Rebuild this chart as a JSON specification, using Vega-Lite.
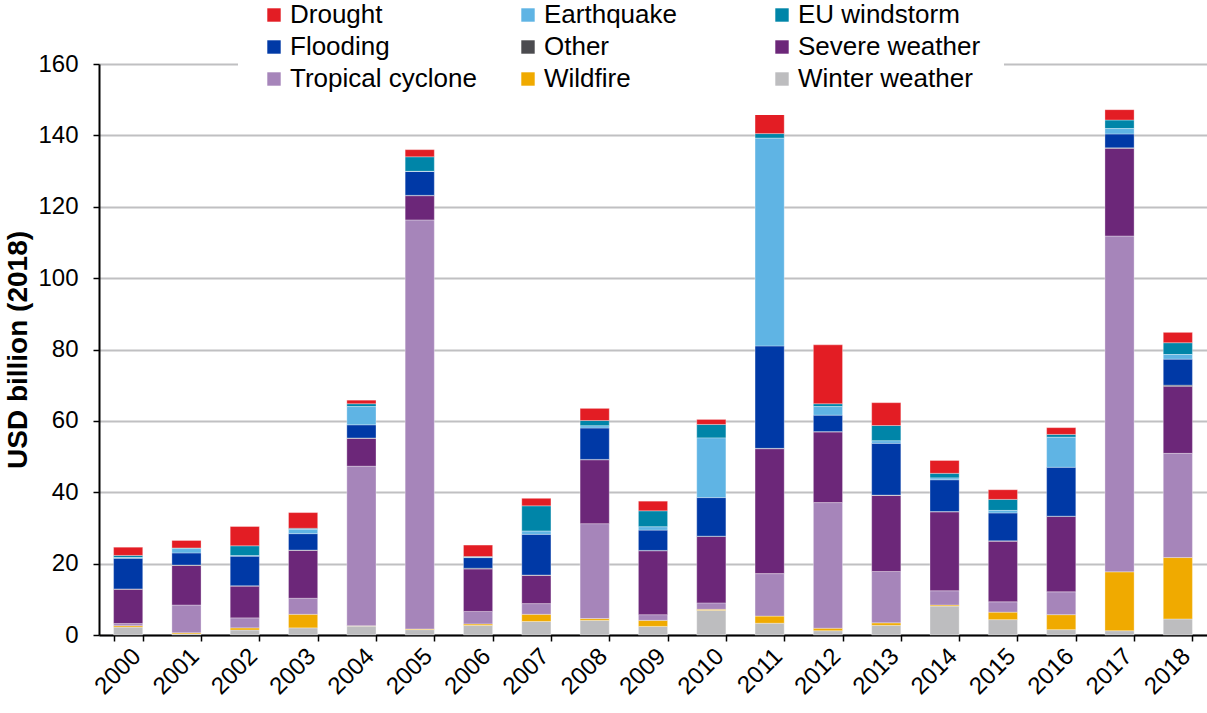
{
  "$schema": "https://vega.github.io/schema/vega-lite/v6.json",
  "width": 1108,
  "height": 571,
  "autosize": {"type": "none"},
  "padding": {"left": 99, "top": 64, "right": 0, "bottom": 78},
  "background": "white",
  "config": {"view": {"stroke": null}, "font": "Liberation Sans"},
  "datasets": {
    "losses": [
      {"year": "2000", "type": "Winter weather", "value": 2.2},
      {"year": "2000", "type": "Wildfire", "value": 0.4},
      {"year": "2000", "type": "Tropical cyclone", "value": 0.6},
      {"year": "2000", "type": "Severe weather", "value": 9.6},
      {"year": "2000", "type": "Other", "value": 0.1},
      {"year": "2000", "type": "Flooding", "value": 8.6},
      {"year": "2000", "type": "EU windstorm", "value": 0.6},
      {"year": "2000", "type": "Earthquake", "value": 0.2},
      {"year": "2000", "type": "Drought", "value": 2.3},
      {"year": "2001", "type": "Winter weather", "value": 0.3},
      {"year": "2001", "type": "Wildfire", "value": 0.3},
      {"year": "2001", "type": "Tropical cyclone", "value": 7.8},
      {"year": "2001", "type": "Severe weather", "value": 11.1},
      {"year": "2001", "type": "Other", "value": 0.1},
      {"year": "2001", "type": "Flooding", "value": 3.4},
      {"year": "2001", "type": "EU windstorm", "value": 0.2},
      {"year": "2001", "type": "Earthquake", "value": 1.2},
      {"year": "2001", "type": "Drought", "value": 2.1},
      {"year": "2002", "type": "Winter weather", "value": 1.4},
      {"year": "2002", "type": "Wildfire", "value": 0.6},
      {"year": "2002", "type": "Tropical cyclone", "value": 2.8},
      {"year": "2002", "type": "Severe weather", "value": 8.9},
      {"year": "2002", "type": "Other", "value": 0.1},
      {"year": "2002", "type": "Flooding", "value": 8.3},
      {"year": "2002", "type": "EU windstorm", "value": 2.8},
      {"year": "2002", "type": "Earthquake", "value": 0.1},
      {"year": "2002", "type": "Drought", "value": 5.4},
      {"year": "2003", "type": "Winter weather", "value": 2.0},
      {"year": "2003", "type": "Wildfire", "value": 3.8},
      {"year": "2003", "type": "Tropical cyclone", "value": 4.5},
      {"year": "2003", "type": "Severe weather", "value": 13.4},
      {"year": "2003", "type": "Other", "value": 0.1},
      {"year": "2003", "type": "Flooding", "value": 4.6},
      {"year": "2003", "type": "EU windstorm", "value": 0.3},
      {"year": "2003", "type": "Earthquake", "value": 1.2},
      {"year": "2003", "type": "Drought", "value": 4.4},
      {"year": "2004", "type": "Winter weather", "value": 2.5},
      {"year": "2004", "type": "Wildfire", "value": 0.1},
      {"year": "2004", "type": "Tropical cyclone", "value": 44.7},
      {"year": "2004", "type": "Severe weather", "value": 7.8},
      {"year": "2004", "type": "Other", "value": 0.1},
      {"year": "2004", "type": "Flooding", "value": 3.7},
      {"year": "2004", "type": "EU windstorm", "value": 0.8},
      {"year": "2004", "type": "Earthquake", "value": 5.1},
      {"year": "2004", "type": "Drought", "value": 1.0},
      {"year": "2005", "type": "Winter weather", "value": 1.5},
      {"year": "2005", "type": "Wildfire", "value": 0.2},
      {"year": "2005", "type": "Tropical cyclone", "value": 114.6},
      {"year": "2005", "type": "Severe weather", "value": 6.8},
      {"year": "2005", "type": "Other", "value": 0.1},
      {"year": "2005", "type": "Flooding", "value": 6.7},
      {"year": "2005", "type": "EU windstorm", "value": 4.1},
      {"year": "2005", "type": "Earthquake", "value": 0.0},
      {"year": "2005", "type": "Drought", "value": 2.0},
      {"year": "2006", "type": "Winter weather", "value": 2.7},
      {"year": "2006", "type": "Wildfire", "value": 0.4},
      {"year": "2006", "type": "Tropical cyclone", "value": 3.5},
      {"year": "2006", "type": "Severe weather", "value": 11.9},
      {"year": "2006", "type": "Other", "value": 0.2},
      {"year": "2006", "type": "Flooding", "value": 3.0},
      {"year": "2006", "type": "EU windstorm", "value": 0.3},
      {"year": "2006", "type": "Earthquake", "value": 0.0},
      {"year": "2006", "type": "Drought", "value": 3.2},
      {"year": "2007", "type": "Winter weather", "value": 3.8},
      {"year": "2007", "type": "Wildfire", "value": 2.0},
      {"year": "2007", "type": "Tropical cyclone", "value": 3.0},
      {"year": "2007", "type": "Severe weather", "value": 7.9},
      {"year": "2007", "type": "Other", "value": 0.1},
      {"year": "2007", "type": "Flooding", "value": 11.4},
      {"year": "2007", "type": "EU windstorm", "value": 7.1},
      {"year": "2007", "type": "Earthquake", "value": 0.9},
      {"year": "2007", "type": "Drought", "value": 2.1},
      {"year": "2008", "type": "Winter weather", "value": 4.1},
      {"year": "2008", "type": "Wildfire", "value": 0.5},
      {"year": "2008", "type": "Tropical cyclone", "value": 26.6},
      {"year": "2008", "type": "Severe weather", "value": 17.9},
      {"year": "2008", "type": "Other", "value": 0.1},
      {"year": "2008", "type": "Flooding", "value": 8.8},
      {"year": "2008", "type": "EU windstorm", "value": 1.5},
      {"year": "2008", "type": "Earthquake", "value": 0.6},
      {"year": "2008", "type": "Drought", "value": 3.4},
      {"year": "2009", "type": "Winter weather", "value": 2.4},
      {"year": "2009", "type": "Wildfire", "value": 1.7},
      {"year": "2009", "type": "Tropical cyclone", "value": 1.6},
      {"year": "2009", "type": "Severe weather", "value": 17.9},
      {"year": "2009", "type": "Other", "value": 0.1},
      {"year": "2009", "type": "Flooding", "value": 5.7},
      {"year": "2009", "type": "EU windstorm", "value": 4.5},
      {"year": "2009", "type": "Earthquake", "value": 0.9},
      {"year": "2009", "type": "Drought", "value": 2.7},
      {"year": "2010", "type": "Winter weather", "value": 6.9},
      {"year": "2010", "type": "Wildfire", "value": 0.3},
      {"year": "2010", "type": "Tropical cyclone", "value": 1.8},
      {"year": "2010", "type": "Severe weather", "value": 18.6},
      {"year": "2010", "type": "Other", "value": 0.1},
      {"year": "2010", "type": "Flooding", "value": 10.8},
      {"year": "2010", "type": "EU windstorm", "value": 3.8},
      {"year": "2010", "type": "Earthquake", "value": 16.7},
      {"year": "2010", "type": "Drought", "value": 1.4},
      {"year": "2011", "type": "Winter weather", "value": 3.3},
      {"year": "2011", "type": "Wildfire", "value": 2.0},
      {"year": "2011", "type": "Tropical cyclone", "value": 11.9},
      {"year": "2011", "type": "Severe weather", "value": 35.0},
      {"year": "2011", "type": "Other", "value": 0.1},
      {"year": "2011", "type": "Flooding", "value": 28.7},
      {"year": "2011", "type": "EU windstorm", "value": 1.3},
      {"year": "2011", "type": "Earthquake", "value": 58.2},
      {"year": "2011", "type": "Drought", "value": 7.8},
      {"year": "2012", "type": "Winter weather", "value": 1.2},
      {"year": "2012", "type": "Wildfire", "value": 0.7},
      {"year": "2012", "type": "Tropical cyclone", "value": 35.2},
      {"year": "2012", "type": "Severe weather", "value": 19.8},
      {"year": "2012", "type": "Other", "value": 0.1},
      {"year": "2012", "type": "Flooding", "value": 4.6},
      {"year": "2012", "type": "EU windstorm", "value": 0.8},
      {"year": "2012", "type": "Earthquake", "value": 2.4},
      {"year": "2012", "type": "Drought", "value": 16.5},
      {"year": "2013", "type": "Winter weather", "value": 2.7},
      {"year": "2013", "type": "Wildfire", "value": 0.7},
      {"year": "2013", "type": "Tropical cyclone", "value": 14.4},
      {"year": "2013", "type": "Severe weather", "value": 21.3},
      {"year": "2013", "type": "Other", "value": 0.1},
      {"year": "2013", "type": "Flooding", "value": 14.5},
      {"year": "2013", "type": "EU windstorm", "value": 4.3},
      {"year": "2013", "type": "Earthquake", "value": 0.7},
      {"year": "2013", "type": "Drought", "value": 6.4},
      {"year": "2014", "type": "Winter weather", "value": 8.1},
      {"year": "2014", "type": "Wildfire", "value": 0.3},
      {"year": "2014", "type": "Tropical cyclone", "value": 4.0},
      {"year": "2014", "type": "Severe weather", "value": 22.1},
      {"year": "2014", "type": "Other", "value": 0.1},
      {"year": "2014", "type": "Flooding", "value": 8.9},
      {"year": "2014", "type": "EU windstorm", "value": 1.3},
      {"year": "2014", "type": "Earthquake", "value": 0.5},
      {"year": "2014", "type": "Drought", "value": 3.6},
      {"year": "2015", "type": "Winter weather", "value": 4.3},
      {"year": "2015", "type": "Wildfire", "value": 2.1},
      {"year": "2015", "type": "Tropical cyclone", "value": 2.9},
      {"year": "2015", "type": "Severe weather", "value": 17.0},
      {"year": "2015", "type": "Other", "value": 0.1},
      {"year": "2015", "type": "Flooding", "value": 7.8},
      {"year": "2015", "type": "EU windstorm", "value": 3.1},
      {"year": "2015", "type": "Earthquake", "value": 0.7},
      {"year": "2015", "type": "Drought", "value": 2.7},
      {"year": "2016", "type": "Winter weather", "value": 1.5},
      {"year": "2016", "type": "Wildfire", "value": 4.2},
      {"year": "2016", "type": "Tropical cyclone", "value": 6.4},
      {"year": "2016", "type": "Severe weather", "value": 21.1},
      {"year": "2016", "type": "Other", "value": 0.1},
      {"year": "2016", "type": "Flooding", "value": 13.7},
      {"year": "2016", "type": "EU windstorm", "value": 0.8},
      {"year": "2016", "type": "Earthquake", "value": 8.4},
      {"year": "2016", "type": "Drought", "value": 1.9},
      {"year": "2017", "type": "Winter weather", "value": 1.2},
      {"year": "2017", "type": "Wildfire", "value": 16.5},
      {"year": "2017", "type": "Tropical cyclone", "value": 94.1},
      {"year": "2017", "type": "Severe weather", "value": 24.6},
      {"year": "2017", "type": "Other", "value": 0.1},
      {"year": "2017", "type": "Flooding", "value": 3.9},
      {"year": "2017", "type": "EU windstorm", "value": 2.4},
      {"year": "2017", "type": "Earthquake", "value": 1.5},
      {"year": "2017", "type": "Drought", "value": 2.9},
      {"year": "2018", "type": "Winter weather", "value": 4.5},
      {"year": "2018", "type": "Wildfire", "value": 17.2},
      {"year": "2018", "type": "Tropical cyclone", "value": 29.2},
      {"year": "2018", "type": "Severe weather", "value": 18.8},
      {"year": "2018", "type": "Other", "value": 0.3},
      {"year": "2018", "type": "Flooding", "value": 7.3},
      {"year": "2018", "type": "EU windstorm", "value": 3.3},
      {"year": "2018", "type": "Earthquake", "value": 1.3},
      {"year": "2018", "type": "Drought", "value": 2.9}
    ]
  },
  "data": {"name": "losses"},
  "mark": {"type": "bar", "stroke": "white", "strokeWidth": 0.7, "strokeOpacity": 0.45},
  "encoding": {
    "x": {
      "field": "year",
      "type": "ordinal",
      "scale": {"paddingInner": 0.5, "paddingOuter": 0.25},
      "axis": {
        "title": null,
        "labelAngle": -45,
        "labelAlign": "right",
        "labelBaseline": "top",
        "labelFontSize": 24,
        "labelColor": "black",
        "labelPadding": 3,
        "tickBand": "extent",
        "tickColor": "black",
        "tickSize": 6,
        "tickWidth": 1.5,
        "domainColor": "black",
        "domainWidth": 2,
        "grid": false
      }
    },
    "y": {
      "field": "value",
      "type": "quantitative",
      "stack": "zero",
      "scale": {"domain": [0, 160], "nice": false},
      "axis": {
        "title": "USD billion (2018)",
        "titleFontSize": 28,
        "titleFontWeight": "bold",
        "titleColor": "black",
        "titlePadding": 5,
        "values": [0, 20, 40, 60, 80, 100, 120, 140, 160],
        "labelFontSize": 24,
        "labelColor": "black",
        "labelPadding": 15,
        "tickColor": "black",
        "tickSize": 6,
        "tickWidth": 1.5,
        "domainColor": "black",
        "domainWidth": 2,
        "grid": true,
        "gridColor": "#c0c0c2",
        "gridWidth": 2
      }
    },
    "color": {
      "field": "type",
      "type": "nominal",
      "sort": ["Drought", "Earthquake", "EU windstorm", "Flooding", "Other", "Severe weather", "Tropical cyclone", "Wildfire", "Winter weather"],
      "scale": {
        "domain": ["Drought", "Earthquake", "EU windstorm", "Flooding", "Other", "Severe weather", "Tropical cyclone", "Wildfire", "Winter weather"],
        "range": ["#e31d24", "#5fb4e4", "#0085a8", "#0039a6", "#4b4b4f", "#6c2779", "#a685ba", "#f0aa00", "#bdbdbf"]
      },
      "legend": {
        "title": null,
        "orient": "none",
        "direction": "horizontal",
        "legendX": 139,
        "legendY": -85,
        "columns": 3,
        "gridAlign": "all",
        "columnPadding": 38,
        "rowPadding": 6,
        "padding": 23,
        "fillColor": "white",
        "symbolType": "square",
        "symbolSize": 180,
        "symbolStrokeWidth": 0,
        "symbolOpacity": 1,
        "labelFontSize": 26,
        "labelColor": "black",
        "labelOffset": 3,
        "labelLimit": 400
      }
    }
  }
}
